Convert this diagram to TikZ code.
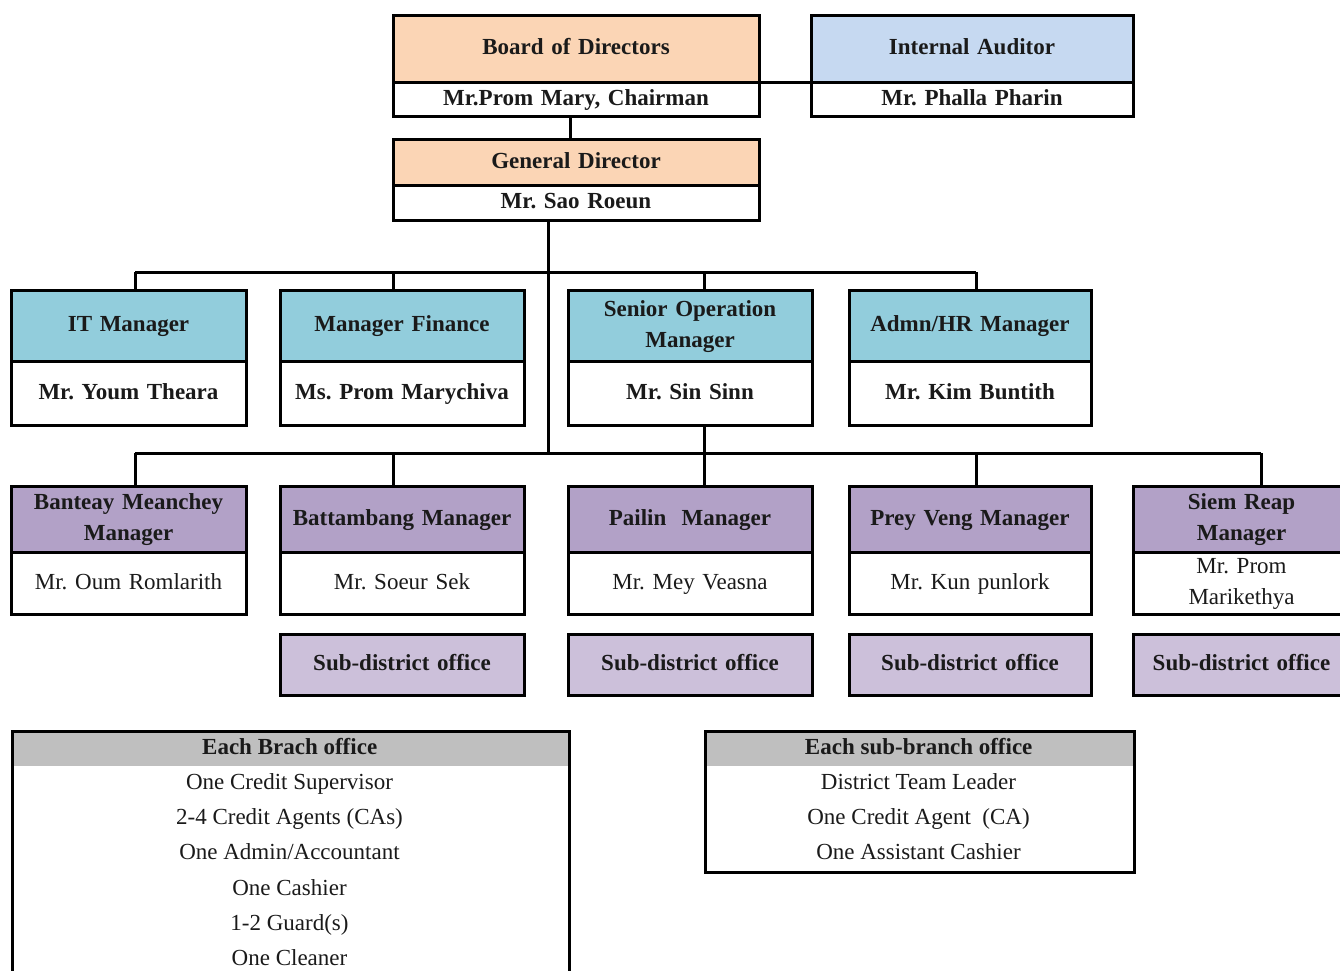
\documentclass[tikz,border=0pt]{standalone}
\usepackage{fontspec}
\setmainfont{Liberation Serif}
\frenchspacing
\newcommand\bft{\fontsize{23}{31}\selectfont\bfseries\frenchspacing}
\newcommand\rft{\fontsize{23}{31}\selectfont\frenchspacing}
\definecolor{peach}{HTML}{FBD5B5}
\definecolor{audblue}{HTML}{C6D9F1}
\definecolor{teal}{HTML}{92CDDC}
\definecolor{purp}{HTML}{B2A1C7}
\definecolor{lilac}{HTML}{CCC0DA}
\definecolor{grayh}{HTML}{BFBFBF}
\definecolor{txt}{HTML}{1A1A1A}
\tikzset{
  boxb/.style={draw, line width=3pt, inner sep=0pt, outer sep=0pt, align=center, font=\bft, text=txt},
  boxr/.style={draw, line width=3pt, inner sep=0pt, outer sep=0pt, align=center, font=\rft, text=txt},
  conn/.style={line width=3pt},
  listtxt/.style={font=\rft, text=txt, inner sep=0pt},
  listhd/.style={font=\bft, text=txt, inner sep=0pt}
}
\newcommand\cell[7]{%
  \pgfmathsetmacro\cw{#3-#2}\pgfmathsetmacro\ch{#5-#4}%
  \pgfmathsetmacro\cx{(#2+#3)/2}\pgfmathsetmacro\cy{(#4+#5)/2}%
  \pgfmathsetmacro\tw{#3-#2-8}%
  \node[#6, minimum width=\cw pt, minimum height=\ch pt, text width=\tw pt] (#1) at (\cx,\cy) {#7};}
\begin{document}
\begin{tikzpicture}[x=1pt,y=-1pt]
\useasboundingbox (0,0) rectangle (1340,970);
% top
\cell{bodh}{393}{759}{15}{82}{boxb,fill=peach}{\strut Board of Directors}
\cell{bodb}{393}{759}{82}{116}{boxb,fill=white}{\strut Mr.Prom Mary, Chairman}
\cell{audh}{811}{1133}{15}{82}{boxb,fill=audblue}{\strut Internal Auditor}
\cell{audb}{811}{1133}{82}{116}{boxb,fill=white}{\strut Mr. Phalla Pharin}
\cell{gdh}{393}{759}{139}{185}{boxb,fill=peach}{\strut General Director}
\cell{gdb}{393}{759}{185}{220}{boxb,fill=white}{\strut Mr. Sao Roeun}
% row 2
\cell{ith}{11}{246}{290}{361}{boxb,fill=teal}{\strut IT Manager}
\cell{itb}{11}{246}{361}{425}{boxb,fill=white}{\strut Mr. Youm Theara}
\cell{finh}{280}{524}{290}{361}{boxb,fill=teal}{\strut Manager Finance}
\cell{finb}{280}{524}{361}{425}{boxb,fill=white}{\strut Ms. Prom Marychiva}
\cell{senh}{568}{812}{290}{361}{boxb,fill=teal}{\strut Senior Operation\\\strut Manager}
\cell{senb}{568}{812}{361}{425}{boxb,fill=white}{\strut Mr. Sin Sinn}
\cell{admh}{849}{1091}{290}{361}{boxb,fill=teal}{\strut Admn/HR Manager}
\cell{admb}{849}{1091}{361}{425}{boxb,fill=white}{\strut Mr. Kim Buntith}
% row 3
\cell{banh}{11}{246}{486}{552}{boxb,fill=purp}{\strut Banteay Meanchey\\\strut Manager}
\cell{banb}{11}{246}{552}{614}{boxr,fill=white}{\strut Mr. Oum Romlarith}
\cell{bath}{280}{524}{486}{552}{boxb,fill=purp}{\strut Battambang Manager}
\cell{batb}{280}{524}{552}{614}{boxr,fill=white}{\strut Mr. Soeur Sek}
\cell{paih}{568}{812}{486}{552}{boxb,fill=purp}{\strut Pailin\ \ Manager}
\cell{paib}{568}{812}{552}{614}{boxr,fill=white}{\strut Mr. Mey Veasna}
\cell{prvh}{849}{1091}{486}{552}{boxb,fill=purp}{\strut Prey Veng Manager}
\cell{prvb}{849}{1091}{552}{614}{boxr,fill=white}{\strut Mr. Kun punlork}
\cell{sirh}{1133}{1350}{486}{552}{boxb,fill=purp}{\strut Siem Reap\\\strut Manager}
\cell{sirb}{1133}{1350}{552}{614}{boxr,fill=white}{\strut Mr. Prom\\\strut Marikethya}
% sub-district
\cell{subbat}{280}{524}{634}{695}{boxb,fill=lilac}{\strut Sub-district office}
\cell{subpai}{568}{812}{634}{695}{boxb,fill=lilac}{\strut Sub-district office}
\cell{subprv}{849}{1091}{634}{695}{boxb,fill=lilac}{\strut Sub-district office}
\cell{subsir}{1133}{1350}{634}{695}{boxb,fill=lilac}{\strut Sub-district office}
% connectors
\draw[conn] (bodh.south east) -- (audh.south west);
\draw[conn] ([xshift=-6pt]bodb.south) -- ([xshift=-6pt]bodb.south |- gdh.north);
\coordinate (j1) at (548,272);
\coordinate (j2) at (548,453);
\draw[conn] (j1 |- gdb.south) -- (j2);
\draw[conn] (135,0 |- j1) -- (976,0 |- j1);
\foreach \x/\n in {135/ith,393/finh,704/senh,976/admh}
  \draw[conn] (\x,0 |- j1) -- (\x,0 |- \n.north);
\draw[conn] (135,0 |- j2) -- (1261,0 |- j2);
\draw[conn] (704,0 |- senb.south) -- (704,0 |- paih.north);
\foreach \x/\n in {135/banh,393/bath,976/prvh,1261/sirh}
  \draw[conn] (\x,0 |- j2) -- (\x,0 |- \n.north);
% each branch office
\node[fill=grayh, minimum width=557pt, minimum height=36pt, inner sep=0pt, anchor=north west] (brh) at (11,730) {};
\node[draw, line width=3pt, minimum width=557pt, minimum height=260pt, inner sep=0pt, anchor=north west] (brbox) at (11,730) {};
\node[listhd] (brt) at (brh) {\strut Each Brach office};
\foreach \t [count=\i] in {One Credit Supervisor, 2-4 Credit Agents (CAs), One Admin/Accountant, One Cashier, 1-2 Guard(s), One Cleaner}
  \node[listtxt] (brl\i) at (289.5,{748+35.2*\i}) {\strut\t};
% each sub-branch office
\node[fill=grayh, minimum width=429pt, minimum height=36pt, inner sep=0pt, anchor=north west] (sbh) at (704,730) {};
\node[draw, line width=3pt, minimum width=429pt, minimum height=141pt, inner sep=0pt, anchor=north west] (sbbox) at (704,730) {};
\node[listhd] (sbt) at (sbh) {\strut Each sub-branch office};
\foreach \t [count=\i] in {District Team Leader, One Credit Agent\ \ (CA), One Assistant Cashier}
  \node[listtxt] (sbl\i) at (918.5,{748+35.2*\i}) {\strut\t};
\end{tikzpicture}
\end{document}
